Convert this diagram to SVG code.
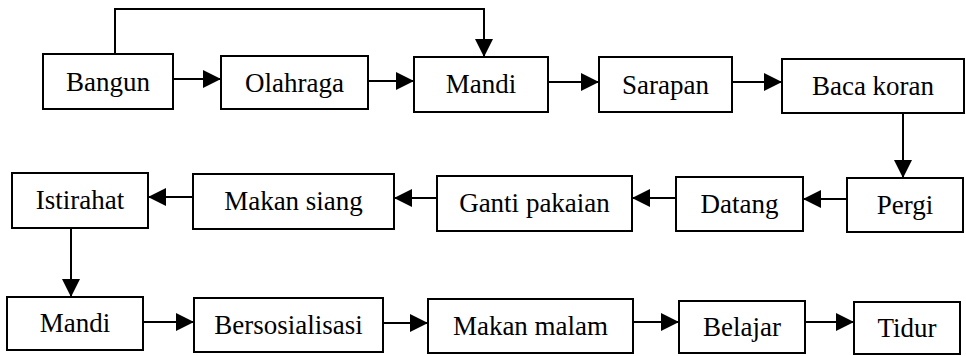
<svg xmlns="http://www.w3.org/2000/svg" width="966" height="356" viewBox="0 0 966 356">
<style>
.box{fill:#fff;stroke:#000;stroke-width:2}
.lbl{font-family:"Liberation Serif","Times New Roman","DejaVu Serif",serif;font-size:27px;fill:#000;text-anchor:middle}
.conn{fill:none;stroke:#000;stroke-width:2}
</style>
<defs>
<marker id="ah" markerUnits="userSpaceOnUse" markerWidth="19" markerHeight="19" refX="18" refY="9" orient="auto">
<path d="M0,0 L18,9 L0,18 Z" fill="#000"/>
</marker>
</defs>
<rect width="966" height="356" fill="#fff"/>
<g id="connectors" class="conn" marker-end="url(#ah)">
<path d="M173,79 H221"/>
<path d="M368,81 H414"/>
<path d="M548,82 H599"/>
<path d="M732,82 H782"/>
<path d="M115,54 V9 H484 V57"/>
<path d="M903,113 V178"/>
<path d="M847,199 H803"/>
<path d="M676,198 H632"/>
<path d="M437,198 H394"/>
<path d="M193,197 H148"/>
<path d="M71,228 V297"/>
<path d="M143,322 H194"/>
<path d="M383,323 H428"/>
<path d="M633,322 H679"/>
<path d="M805,322 H854"/>
</g>
<g id="bangun"><rect class="box" x="43" y="54" width="130" height="55"/><text class="lbl" x="108" y="91">Bangun</text></g>
<g id="olahraga"><rect class="box" x="221" y="56" width="147" height="53"/><text class="lbl" x="294.5" y="92">Olahraga</text></g>
<g id="mandi1"><rect class="box" x="414" y="57" width="134" height="55"/><text class="lbl" x="481" y="93">Mandi</text></g>
<g id="sarapan"><rect class="box" x="599" y="57" width="133" height="55"/><text class="lbl" x="665.5" y="94">Sarapan</text></g>
<g id="baca-koran"><rect class="box" x="782" y="59" width="182" height="54"/><text class="lbl" x="873" y="95">Baca koran</text></g>
<g id="istirahat"><rect class="box" x="12" y="173" width="136" height="55"/><text class="lbl" x="80" y="209">Istirahat</text></g>
<g id="makan-siang"><rect class="box" x="193" y="174" width="201" height="55"/><text class="lbl" x="293.5" y="210">Makan siang</text></g>
<g id="ganti-pakaian"><rect class="box" x="437" y="176" width="195" height="55"/><text class="lbl" x="534.5" y="212">Ganti pakaian</text></g>
<g id="datang"><rect class="box" x="676" y="177" width="127" height="54"/><text class="lbl" x="739.5" y="213">Datang</text></g>
<g id="pergi"><rect class="box" x="847" y="178" width="116" height="54"/><text class="lbl" x="905" y="214">Pergi</text></g>
<g id="mandi2"><rect class="box" x="7" y="297" width="136" height="53"/><text class="lbl" x="75" y="332">Mandi</text></g>
<g id="bersosialisasi"><rect class="box" x="194" y="298" width="189" height="54"/><text class="lbl" x="288.5" y="334">Bersosialisasi</text></g>
<g id="makan-malam"><rect class="box" x="428" y="299" width="205" height="54"/><text class="lbl" x="530.5" y="335">Makan malam</text></g>
<g id="belajar"><rect class="box" x="679" y="301" width="126" height="52"/><text class="lbl" x="742" y="336">Belajar</text></g>
<g id="tidur"><rect class="box" x="854" y="302" width="106" height="52"/><text class="lbl" x="907" y="337">Tidur</text></g>
</svg>
